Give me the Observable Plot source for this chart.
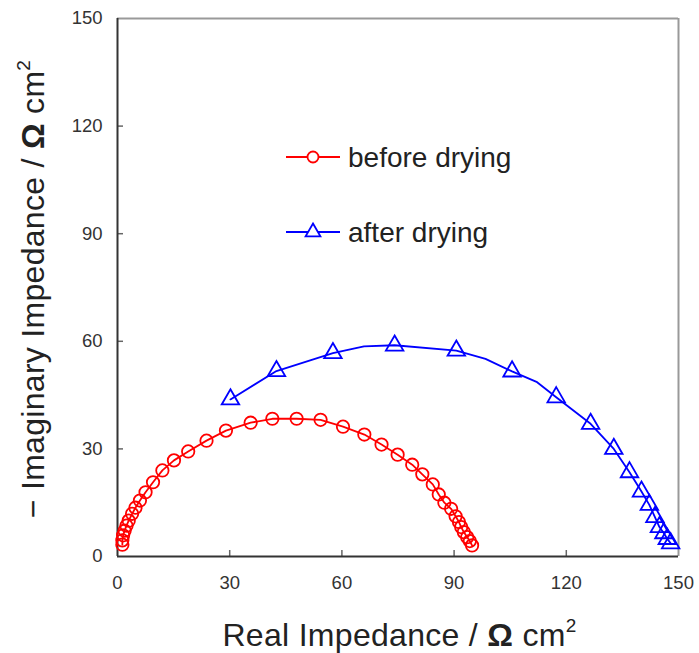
<!DOCTYPE html>
<html><head><meta charset="utf-8">
<script src="https://cdn.jsdelivr.net/npm/d3@7"></script>
<script src="https://cdn.jsdelivr.net/npm/@observablehq/plot@0.6"></script>
<style>
body{margin:0;background:#fff}
#chart{position:relative;width:699px;height:653px;font-family:"Liberation Sans",Arial,sans-serif}
</style>
</head><body><div id="chart"></div>
<script>
// before drying (red circles)
const beforeX = [1.3,1.3,1.5,1.9,2.4,3.0,3.9,4.8,6.0,7.5,9.5,12.0,15.1,18.9,23.8,29.0,35.6,41.4,47.9,54.3,60.3,66.0,70.6,74.9,78.8,81.5,84.3,85.9,87.4,89.2,90.4,91.3,91.9,92.6,93.5,94.2,94.8];
const beforeY = [3.3,4.5,5.9,7.2,8.6,10.0,11.9,13.6,15.6,17.9,20.7,24.0,26.8,29.3,32.3,35.1,37.3,38.4,38.4,38.1,36.2,34.0,31.2,28.4,25.6,22.9,20.1,17.3,15.0,13.3,11.2,9.6,8.2,6.8,5.4,4.3,3.1];
// after drying (blue triangles)
const afterX = [30.2,42.5,57.6,74.1,90.6,105.5,117.3,126.5,132.7,136.9,140.1,142.2,143.7,144.9,146.1,147.0,147.9];
const afterY = [43.8,51.7,56.7,58.8,57.4,51.6,44.4,37.0,30.0,23.5,18.1,14.4,11.0,8.2,6.5,4.9,3.7];
// after drying fitted line vertices
const afterFitX = [30.2,42.5,57.6,65.9,74.1,90.6,98.4,105.5,112.2,117.3,126.5,132.7,136.9,140.1,142.2,143.7,144.9,146.1,147.0,147.9];
const afterFitY = [43.8,51.7,56.7,58.6,58.9,57.4,55.1,51.6,48.6,44.4,37.0,30.0,23.5,18.1,14.4,11.0,8.2,6.5,4.9,3.7];
const xTicks = [0,30,60,90,120,150];
const yTicks = [0,30,60,90,120,150];
const seriesNames = ["before drying","after drying"];

const before = beforeX.map((x,i)=>({x, y: beforeY[i]}));
const after = afterX.map((x,i)=>({x, y: afterY[i]}));
const afterFit = afterFitX.map((x,i)=>({x, y: afterFitY[i]}));

const W = 699, H = 653, mL = 117, mR = 21, mT = 18, mB = 97;
const pw = W - mL - mR, ph = H - mT - mB;
const FONT = '"Liberation Sans", Arial, sans-serif';

const chart = Plot.plot({
  width: W, height: H,
  marginLeft: mL, marginRight: mR, marginTop: mT, marginBottom: mB,
  style: {fontFamily: FONT, background: "#fff"},
  x: {domain: [0,150]},
  y: {domain: [0,150]},
  marks: [
    Plot.axisX(xTicks, {tickSize: 0, tickPadding: 19, label: null, tickFormat: d => String(d), fontSize: 18.5, fill: "#333"}),
    Plot.axisY(yTicks, {tickSize: 0, tickPadding: 15, label: null, tickFormat: d => String(d), fontSize: 18.5, fill: "#333"}),
    Plot.tickX(xTicks.slice(1,-1), {x: d => d, stroke: "#666", strokeWidth: 1.5, insetTop: ph - 6}),
    Plot.tickY(yTicks.slice(1,-1), {y: d => d, stroke: "#666", strokeWidth: 1.5, insetRight: pw - 6}),
    Plot.ruleX([150], {stroke: "#999", strokeWidth: 2}),
    Plot.ruleY([150], {stroke: "#999", strokeWidth: 2}),
    Plot.ruleX([0], {stroke: "#333", strokeWidth: 2}),
    Plot.ruleY([0], {stroke: "#333", strokeWidth: 2}),
    Plot.line(before, {x: "x", y: "y", stroke: "#ff0000", strokeWidth: 1.8}),
    Plot.dot(before, {x: "x", y: "y", r: 6.2, stroke: "#ff0000", strokeWidth: 1.8, fill: "none"}),
    Plot.line(afterFit, {x: "x", y: "y", stroke: "#0000ff", strokeWidth: 1.8}),
    Plot.dot(after, {x: "x", y: "y", r: 6.5, symbol: "triangle", stroke: "#0000ff", strokeWidth: 1.8, fill: "none"})
  ]
});
document.getElementById("chart").appendChild(chart);

const svg = d3.select(chart);
// axis labels
const xl = svg.append("text").attr("x", mL + pw/2 + 2).attr("y", 646).attr("text-anchor","middle")
  .style("font-size","32px").style("letter-spacing","0.3px").attr("fill","#222");
xl.append("tspan").text("Real Impedance / ");
xl.append("tspan").text("Ω").style("font-weight","bold");
xl.append("tspan").text(" cm");
xl.append("tspan").text("2").attr("dy","-14").style("font-size","19px");

const yl = svg.append("text").attr("transform", `translate(44,${mT + ph/2 + 2}) rotate(-90)`)
  .attr("text-anchor","middle").style("font-size","32px").style("letter-spacing","0.3px").attr("fill","#222");
yl.append("tspan").text("− Imaginary Impedance / ");
yl.append("tspan").text("Ω").style("font-weight","bold");
yl.append("tspan").text(" cm");
yl.append("tspan").text("2").attr("dy","-14").style("font-size","19px");

// legend
const lg = svg.append("g");
const items = [
  {name: seriesNames[0], color: "#ff0000", sym: d3.symbolCircle, y: 157},
  {name: seriesNames[1], color: "#0000ff", sym: d3.symbolTriangle, y: 232}
];
items.forEach(it => {
  lg.append("line").attr("x1",286).attr("x2",340).attr("y1",it.y).attr("y2",it.y)
    .attr("stroke", it.color).attr("stroke-width",1.8);
  lg.append("path").attr("d", d3.symbol(it.sym, Math.PI*5.5*5.5)()).attr("transform",`translate(313,${it.y})`)
    .attr("stroke", it.color).attr("stroke-width",1.8).attr("fill","white");
  lg.append("text").attr("x",348).attr("y",it.y).attr("dy","0.35em").attr("text-anchor","start").text(it.name)
    .style("font-size","28px").attr("fill","#222");
});
</script>
</body></html>
